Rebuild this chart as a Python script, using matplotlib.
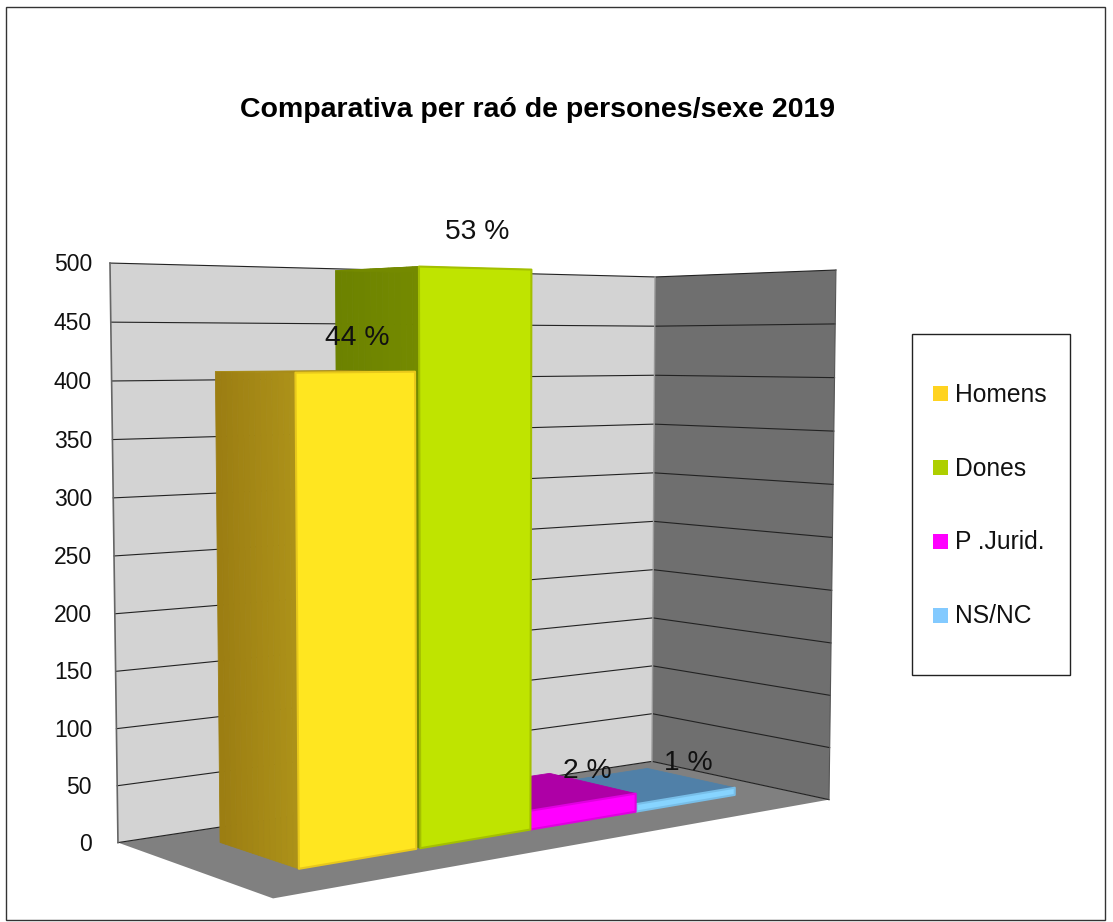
import numpy as np
import matplotlib
matplotlib.use("Agg")
import matplotlib.pyplot as plt
from matplotlib.patches import Polygon, Rectangle

plt.rcParams['font.family'] = ['Liberation Sans', 'DejaVu Sans']

# Chart data
categories = ["Homens", "Dones", "P .Jurid.", "NS/NC"]
values = [408, 496, 17, 7]
ticks = [0, 50, 100, 150, 200, 250, 300, 350, 400, 450, 500]
title = "Comparativa per raó de persones/sexe 2019"

legend_colors = ["#FFD320", "#AECF00", "#FF00FF", "#83CAFF"]
front_colors = ["#FFE620", "#BFE400", "#FF00FF", "#87D4FF"]
edge_colors = ["#E8C81C", "#A4C000", "#E000E0", "#78BEE8"]
side_colors = [("#9C7E12", "#AC9119"), ("#6C8200", "#748A00"), ("#A800A0", "#B000A8"), ("#4F7FA6", "#5585AC")]
top_colors = ["#A88C18", "#748A00", "#AE00A6", "#5080A8"]

# Calibration of the 3D box: (x, depth, value) -> pixel
box_points = [
    (0, 1, 0, 118, 843), (0, 0, 0, 273, 898), (1, 0, 0, 829, 800), (1, 1, 0, 652, 761),
    (0, 1, 500, 110, 263), (1, 1, 500, 655, 277), (1, 0, 500, 836, 270),
]
bar_left = [0.113, 0.312, 0.507, 0.71]
bar_right = [0.305, 0.507, 0.708, 0.912]
bar_front, bar_back = 0.285, 0.785


def fit_camera(points):
    rows = []
    for x, d, v, px, py in points:
        p = [x, d, v / 500, 1]
        rows.append(p + [0, 0, 0, 0] + [-px * c for c in p])
        rows.append([0, 0, 0, 0] + p + [-py * c for c in p])
    _, _, vt = np.linalg.svd(np.array(rows, dtype=float))
    return vt[-1].reshape(3, 4)


cam = fit_camera(box_points)


def proj(x, d, v):
    q = cam @ np.array([x, d, v / 500, 1.0])
    return q[0] / q[2], q[1] / q[2]


def quad(ax, pts, color, edge=None, lw=0, z=1):
    ax.add_patch(Polygon(pts, closed=True, facecolor=color, edgecolor=edge or color,
                         linewidth=lw, joinstyle='round', zorder=z))


def draw_bar(ax, i, z):
    x0, x1 = bar_left[i], bar_right[i]
    v = values[i]
    # left side, shaded front to back in thin strips
    c0 = np.array(matplotlib.colors.to_rgb(side_colors[i][1]))
    c1 = np.array(matplotlib.colors.to_rgb(side_colors[i][0]))
    depths = np.linspace(bar_front, bar_back, 15)
    for k in range(14):
        t = k / 13
        quad(ax, [proj(x0, depths[k], 0), proj(x0, depths[k + 1], 0),
                  proj(x0, depths[k + 1], v), proj(x0, depths[k], v)],
             c0 * (1 - t) + c1 * t, lw=0.6, z=z)
    # top
    quad(ax, [proj(x0, bar_front, v), proj(x1, bar_front, v),
              proj(x1, bar_back, v), proj(x0, bar_back, v)],
         top_colors[i], lw=0.6, z=z)
    # front
    quad(ax, [proj(x0, bar_front, 0), proj(x1, bar_front, 0),
              proj(x1, bar_front, v), proj(x0, bar_front, v)],
         front_colors[i], edge=edge_colors[i], lw=1.5, z=z + 0.1)


fig = plt.figure(figsize=(11.13, 9.22), dpi=100)
ax = fig.add_axes([0, 0, 1, 1])
ax.set_xlim(0, 1113)
ax.set_ylim(922, 0)
ax.axis('off')

ax.add_patch(Rectangle((6, 7), 1099, 913, facecolor='white', edgecolor='#333333', linewidth=1))

# floor and walls
quad(ax, [proj(0, 1, 0), proj(0, 0, 0), proj(1, 0, 0), proj(1, 1, 0)], "#808080", z=1)
quad(ax, [proj(0, 1, 0), proj(1, 1, 0), proj(1, 1, 500), proj(0, 1, 500)], "#D3D3D3", z=1)
quad(ax, [proj(1, 1, 0), proj(1, 0, 0), proj(1, 0, 500), proj(1, 1, 500)], "#6F6F6F", z=1)

for t in ticks:
    x1, y1 = proj(0, 1, t)
    x2, y2 = proj(1, 1, t)
    x3, y3 = proj(1, 0, t)
    ax.plot([x1, x2, x3], [y1, y2, y3], color='#222222', lw=0.8, zorder=2)
    ax.text(92, y1 + 1.5, str(t), ha='right', va='center', fontsize=16.5, color='#111111')

ax.plot(*zip(proj(0, 1, 0), proj(0, 1, 500)), color='#666666', lw=1.2, zorder=2)
ax.plot(*zip(proj(1, 1, 0), proj(1, 1, 500)), color='#999999', lw=1.0, zorder=2)
ax.plot(*zip(proj(1, 0, 0), proj(1, 0, 500)), color='#555555', lw=0.8, zorder=2)

# painted right to left so nearer bars cover the others
for i in [3, 2, 1, 0]:
    draw_bar(ax, i, 3 + (3 - i))

# percentage labels
total = sum(values)
label_pos = [(357, 338), (477.5, 232), (587, 771), (688, 763)]
for v, (lx, ly) in zip(values, label_pos):
    ax.text(lx, ly, f"{round(v / total * 100)} %", ha='center', va='center',
            fontsize=20.3, color='#111111', zorder=10)

ax.text(538, 110, title, ha='center', va='center', fontsize=20.5, fontweight='bold', color='black')

# legend box
ax.add_patch(Rectangle((912, 334), 158, 341, facecolor='white', edgecolor='#222222', linewidth=1, zorder=2))
for name, col, ly in zip(categories, legend_colors, [393.5, 467.5, 541, 615]):
    ax.add_patch(Rectangle((933, ly - 7.5), 15, 15, facecolor=col, edgecolor='none', zorder=3))
    ax.text(955, ly + 1, name, ha='left', va='center', fontsize=17.7, color='#111111', zorder=3)

fig.savefig("out.png", dpi=100)
